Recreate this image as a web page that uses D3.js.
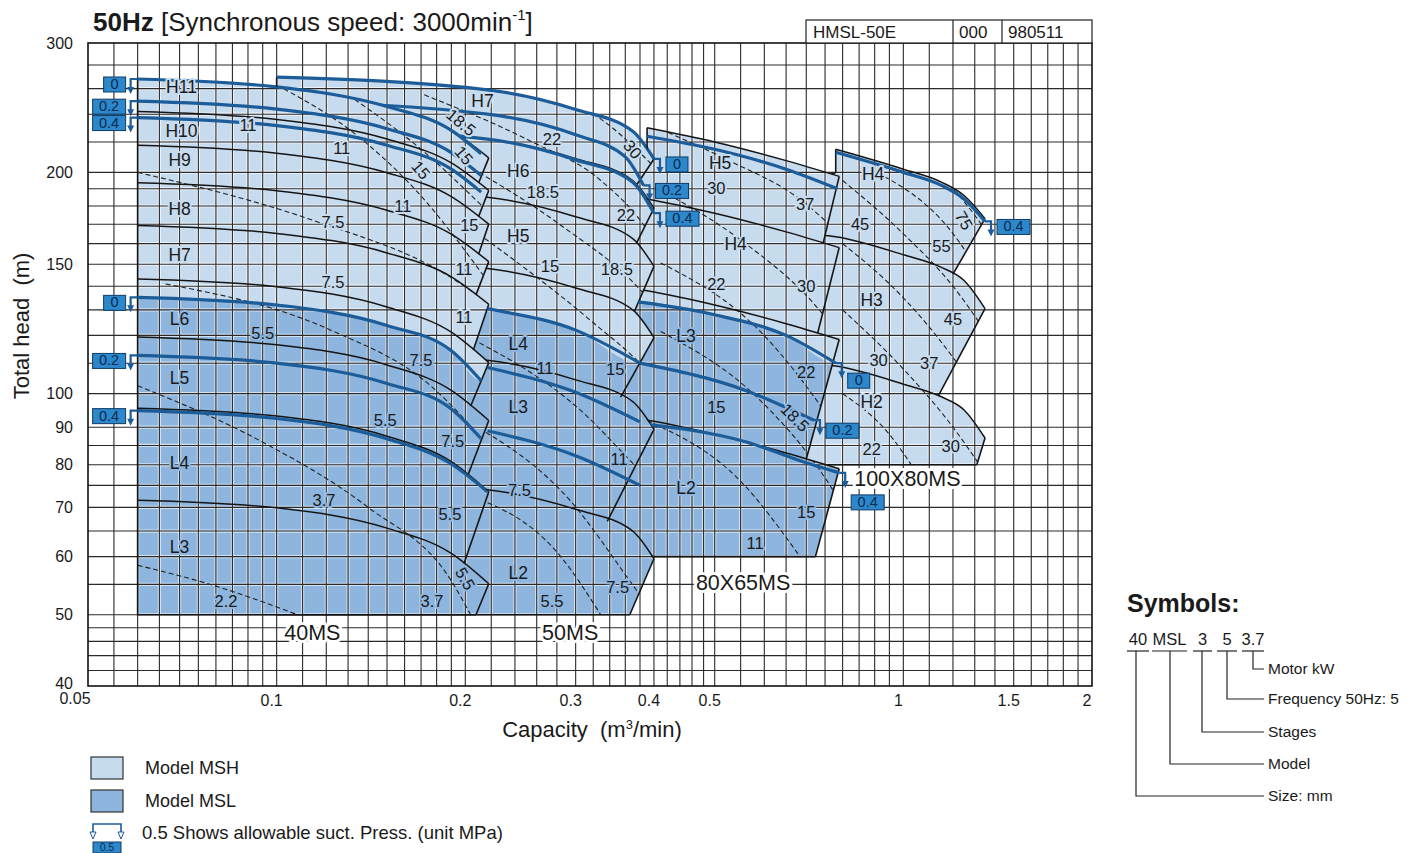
<!DOCTYPE html>
<html>
<head>
<meta charset="utf-8">
<title>50Hz performance chart</title>
<script src="https://cdn.jsdelivr.net/npm/d3@7/dist/d3.min.js"></script>
<style>
body { margin: 0; background: #fff; }
svg { display: block; }
text { font-family: "Liberation Sans", Arial, Helvetica, sans-serif; fill: #1a1a1a; white-space: pre; }
</style>
</head>
<body>
<svg id="chart" width="1420" height="853"></svg>
<script>
// ---- axis ticks
var xTickValues = [0.05, 0.1, 0.2, 0.3, 0.4, 0.5, 1, 1.5, 2];
var xTickLabels = ['0.05', '0.1', '0.2', '0.3', '0.4', '0.5', '1', '1.5', '2'];
var yTickValues = [40, 50, 60, 70, 80, 90, 100, 150, 200, 300];
var yTickLabels = ['40', '50', '60', '70', '80', '90', '100', '150', '200', '300'];

// ---- 40MS  (stage curves top -> bottom, [capacity m3/min, head m])
var ms40Stages = [
  ['H11', [[0.06, 268], [0.1, 261.4], [0.15, 245.8], [0.19, 228.1], [0.218, 209.3]]],
  ['H10', [[0.06, 242], [0.1, 236], [0.15, 222], [0.19, 206], [0.218, 189]]],
  ['H9', [[0.06, 217.8], [0.1, 212.4], [0.15, 199.8], [0.19, 185.4], [0.218, 170.1]]],
  ['H8', [[0.06, 193.6], [0.1, 188.8], [0.15, 177.6], [0.19, 164.8], [0.218, 151.2]]],
  ['H7', [[0.06, 169.4], [0.1, 165.2], [0.15, 155.4], [0.19, 144.2], [0.218, 132.3]]],
  ['L6', [[0.06, 143.2], [0.1, 139.8], [0.15, 131.2], [0.19, 121.2], [0.218, 110.2]]],
  ['L5', [[0.06, 119.4], [0.1, 116.5], [0.15, 109.4], [0.19, 101], [0.218, 91.9]]],
  ['L4', [[0.06, 95.5], [0.1, 93.2], [0.15, 87.5], [0.19, 80.8], [0.218, 73.5]]],
  ['L3', [[0.06, 71.6], [0.1, 69.9], [0.15, 65.6], [0.19, 60.6], [0.218, 55.1]]]
];
var ms40Inner = [0.21, 0.21, 0.21, 0.208, 0.206, 0.204, 0.202, 0.199];
var ms40Bottom = [0.208, 50];
var ms40Left = [[0.06, 50]];
var ms40BlueH = [
  ['0', [[0.06, 268], [0.1, 261.4], [0.15, 245.8], [0.19, 228.1], [0.212, 212]]],
  ['0.2', [[0.06, 250], [0.1, 243.8], [0.15, 229.3], [0.19, 212.8], [0.212, 198]]],
  ['0.4', [[0.06, 237.5], [0.1, 231.6], [0.15, 217.8], [0.19, 202], [0.212, 188]]]
];
var ms40BlueL = [
  ['0', [[0.06, 135.2], [0.1, 132], [0.15, 123.8], [0.19, 114.4], [0.212, 104.1]]],
  ['0.2', [[0.06, 112.7], [0.1, 110], [0.15, 103.2], [0.19, 95.3], [0.212, 86.8]]],
  ['0.4', [[0.06, 94.8], [0.1, 92.5], [0.15, 86.8], [0.19, 80.2], [0.217, 73.5]]]
];
var ms40Dash = [
  [[0.06, 58.4], [0.08, 54.7], [0.108, 50]],
  [[0.06, 102.5], [0.094, 86.3], [0.14, 70], [0.19, 55.6], [0.204, 50]],
  [[0.0665, 141], [0.122, 122], [0.176, 102.5], [0.22, 84]],
  [[0.06, 200], [0.1145, 172], [0.187, 145], [0.22, 132]],
  [[0.1, 263], [0.133, 226], [0.165, 191], [0.22, 140]],
  [[0.13, 255], [0.17, 215], [0.22, 175]],
  [[0.16, 258], [0.19, 240], [0.22, 218]]
];
var ms40StageLabels = [['H11', 0.0705, 262], ['H10', 0.0705, 228], ['H9', 0.07, 208], ['H8', 0.07, 178.6],
  ['H7', 0.07, 154.7], ['L6', 0.07, 126.6], ['L5', 0.07, 105], ['L4', 0.07, 80.5], ['L3', 0.07, 61.8]];
var ms40Kw = [['11', 0.09, 232], ['11', 0.127, 216], ['11', 0.159, 180], ['18.5', 0.197, 234], ['15', 0.199, 211],
  ['15', 0.17, 201.6], ['15', 0.203, 169.5], ['7.5', 0.123, 171], ['7.5', 0.123, 141.7], ['11', 0.199, 147.6],
  ['11', 0.199, 127], ['5.5', 0.095, 121], ['7.5', 0.17, 111], ['5.5', 0.149, 92], ['7.5', 0.191, 86.3],
  ['3.7', 0.119, 71.7], ['5.5', 0.189, 68.6], ['2.2', 0.083, 52.2], ['3.7', 0.177, 52.2], ['5.5', 0.2, 56]];
var ms40Tag = ['40MS', 0.114, 47.4];

// ---- 50MS
var ms50Stages = [
  ['H7', [[0.1, 269.5], [0.217, 259], [0.3, 243.6], [0.37, 227.5], [0.4, 208.6]]],
  ['H6', [[0.1, 231], [0.217, 222], [0.3, 208.8], [0.37, 195], [0.4, 178.8]]],
  ['H5', [[0.1, 192.5], [0.217, 185], [0.3, 174], [0.37, 162.5], [0.4, 149]]],
  ['L4', [[0.1, 154], [0.217, 148], [0.3, 139.2], [0.37, 130], [0.4, 119.2]]],
  ['L3', [[0.1, 115.5], [0.217, 111], [0.3, 104.4], [0.37, 97.5], [0.4, 89.4]]],
  ['L2', [[0.1, 77], [0.217, 74], [0.3, 69.6], [0.37, 65], [0.4, 59.6]]]
];
var ms50Inner = [0.375, 0.375, 0.372, 0.354, 0.337];
var ms50Bottom = [0.366, 50];
var ms50Left = [[0.1, 50]];
var ms50BlueH = [
  ['0', [[0.1, 269.5], [0.217, 259], [0.3, 243.6], [0.37, 227.5], [0.4, 208.6]]],
  ['0.2', [[0.1, 250], [0.217, 240], [0.3, 225], [0.36, 210], [0.385, 192]]],
  ['0.4', [[0.1, 231], [0.217, 222], [0.3, 208], [0.37, 194], [0.4, 176]]]
];
var ms50BlueL = [
  ['0', [[0.1, 140], [0.217, 130.5], [0.3, 122], [0.38, 110]]],
  ['0.2', [[0.217, 108.5], [0.3, 100.4], [0.38, 91.5]]],
  ['0.4', [[0.217, 89], [0.3, 82.3], [0.38, 75]]]
];
var ms50Dash = [
  [[0.2, 275], [0.26, 262], [0.33, 236], [0.42, 195]],
  [[0.172, 255], [0.253, 221], [0.329, 195], [0.39, 167], [0.42, 150]],
  [[0.2, 205], [0.284, 169.5], [0.38, 138.5], [0.42, 125]],
  [[0.2, 170], [0.316, 126], [0.39, 107.5], [0.42, 100]],
  [[0.2, 120], [0.305, 95], [0.38, 78.5], [0.42, 72]],
  [[0.2, 92], [0.294, 71.5], [0.366, 55.6], [0.4, 50]],
  [[0.2, 73], [0.284, 60], [0.329, 50]]
];
var ms50StageLabels = [['H7', 0.213, 250], ['H6', 0.243, 201], ['H5', 0.243, 164], ['L4', 0.243, 117],
  ['L3', 0.243, 96], ['L2', 0.243, 57]];
var ms50Kw = [['22', 0.275, 222], ['18.5', 0.266, 188], ['30', 0.37, 215], ['22', 0.361, 175], ['15', 0.273, 149],
  ['18.5', 0.349, 147.6], ['11', 0.268, 108.5], ['15', 0.347, 108], ['7.5', 0.244, 74], ['11', 0.352, 81.5],
  ['5.5', 0.275, 52.2], ['7.5', 0.35, 54.6]];
var ms50Tag = ['50MS', 0.294, 47.4];

// ---- 80X65MS
var ms80Stages = [
  ['H5', [[0.39, 230], [0.5, 220], [0.65, 207.5], [0.79, 197.5]]],
  ['H4', [[0.35, 187], [0.39, 184], [0.5, 176], [0.65, 166], [0.79, 158]]],
  ['L3', [[0.35, 140], [0.39, 138], [0.5, 132], [0.65, 124.5], [0.79, 118.5]]],
  ['L2', [[0.35, 93], [0.39, 92], [0.5, 88], [0.65, 83], [0.79, 79]]]
];
var ms80Inner = [0.745, 0.73, 0.70];
var ms80Bottom = [0.724, 60];
var ms80Left = [[0.33, 60], [0.33, 180], [0.39, 205]];
var ms80BlueH = [
  ['0.4', [[0.39, 224], [0.5, 215], [0.65, 202], [0.785, 190]]]
];
var ms80BlueL = [
  ['0', [[0.36, 134], [0.5, 128], [0.65, 120], [0.78, 110]]],
  ['0.2', [[0.38, 110], [0.56, 101], [0.72, 92]]],
  ['0.4', [[0.38, 91], [0.56, 86], [0.7, 80.5], [0.79, 78]]]
];
var ms80Dash = [
  [[0.41, 229], [0.524, 208], [0.677, 185], [0.82, 160]],
  [[0.41, 189], [0.549, 162], [0.737, 129.5], [0.82, 115]],
  [[0.41, 150.6], [0.591, 121.5], [0.765, 92], [0.82, 84]],
  [[0.41, 121.5], [0.591, 97.9], [0.737, 78.5], [0.82, 68]],
  [[0.39, 91.9], [0.549, 76.1], [0.684, 60]]
];
var ms80StageLabels = [['H5', 0.51, 206], ['H4', 0.54, 160], ['L3', 0.45, 120], ['L2', 0.45, 74.5]];
var ms80Kw = [['30', 0.503, 190.5], ['37', 0.697, 181], ['22', 0.503, 141], ['30', 0.7, 140], ['15', 0.503, 96],
  ['18.5', 0.672, 92.8], ['22', 0.7, 107], ['15', 0.7, 69], ['11', 0.58, 62.6]];
var ms80Tag = ['80X65MS', 0.555, 55.4];

// ---- 100X80MS
var ms100Stages = [
  ['H4', [[0.78, 215], [1.0, 202], [1.15, 194], [1.25, 186], [1.35, 173]]],
  ['H3', [[0.7, 165], [0.78, 163.5], [1.0, 154.5], [1.15, 148.5], [1.25, 142.5], [1.35, 130.5]]],
  ['H2', [[0.7, 110], [0.78, 109], [1.0, 103], [1.15, 99], [1.25, 95], [1.35, 87]]]
];
var ms100Inner = [1.2, 1.137];
var ms100Bottom = [1.31, 80];
var ms100Left = [[0.68, 80], [0.68, 190], [0.78, 200]];
var ms100BlueH = [
  ['0.4', [[0.78, 213], [1.0, 200], [1.15, 192], [1.25, 184], [1.35, 171.5]]]
];
var ms100Dash = [
  [[1.0, 214], [1.2, 190], [1.4, 160]],
  [[0.886, 202], [1.19, 166.6], [1.4, 135]],
  [[0.8, 195], [1.0, 165], [1.2, 140], [1.4, 116]],
  [[0.8, 160], [1.0, 135], [1.2, 112], [1.4, 92]],
  [[0.8, 130], [1.0, 108], [1.2, 90], [1.35, 78]],
  [[0.8, 100], [0.95, 88], [1.05, 78]]
];
var ms100StageLabels = [['H4', 0.895, 199], ['H3', 0.89, 134], ['H2', 0.89, 97.5]];
var ms100Kw = [['45', 0.853, 170], ['55', 1.15, 159], ['75', 1.25, 172], ['30', 0.913, 111], ['37', 1.1, 110],
  ['45', 1.2, 126.5], ['22', 0.89, 84], ['30', 1.19, 84.8]];
var ms100Tag = ['100X80MS', 1.015, 76.8];

// ---- legend / symbols text
var legendNames = ['Model MSH', 'Model MSL'];
var symbolTokens = ['40', 'MSL', '3', '5', '3.7'];
var symbolMeanings = ['Size: mm', 'Model', 'Stages', 'Frequency 50Hz: 5', 'Motor kW'];

// ================= drawing =================
var W = 1420, H = 853;
var lightFill = '#c7dbef', darkFill = '#8db5de', lineBlue = '#1c5c98', boxBlue = '#2c87cb';

var families = [
  { stages: ms40Stages, inner: ms40Inner, bottom: ms40Bottom, left: ms40Left, dash: ms40Dash, blueH: ms40BlueH, blueL: ms40BlueL,
    markH: 'left', markL: 'left', drop: {}, stageLabels: ms40StageLabels, kw: ms40Kw, tag: ms40Tag, tilt: { 3: 40, 4: 50, 5: 50, 19: 60 } },
  { stages: ms50Stages, inner: ms50Inner, bottom: ms50Bottom, left: ms50Left, dash: ms50Dash, blueH: ms50BlueH, blueL: ms50BlueL,
    markH: 'right', markL: null, drop: {}, stageLabels: ms50StageLabels, kw: ms50Kw, tag: ms50Tag, tilt: { 2: 50 } },
  { stages: ms80Stages, inner: ms80Inner, bottom: ms80Bottom, left: ms80Left, dash: ms80Dash, blueH: ms80BlueH, blueL: ms80BlueL,
    markH: null, markL: 'right', drop: { '0': 12, '0.2': 5, '0.4': 24 }, stageLabels: ms80StageLabels, kw: ms80Kw, tag: ms80Tag, tilt: { 5: 45 } },
  { stages: ms100Stages, inner: ms100Inner, bottom: ms100Bottom, left: ms100Left, dash: ms100Dash, blueH: ms100BlueH, blueL: [],
    markH: 'right', markL: null, drop: {}, stageLabels: ms100StageLabels, kw: ms100Kw, tag: ms100Tag, tilt: { 2: 60 } }
];

var svg = d3.select('#chart');
var x = d3.scaleLog().domain([0.05, 2]).range([88, 1092]);
var y = d3.scaleLog().domain([40, 300]).range([686, 43]);

var smooth = d3.line().x(function(d) { return x(d[0]); }).y(function(d) { return y(d[1]); }).curve(d3.curveMonotoneX);
var straight = d3.line().x(function(d) { return x(d[0]); }).y(function(d) { return y(d[1]); });

function headAt(pts, q) {
  var i = 0;
  while (i < pts.length - 2 && q > pts[i + 1][0]) i++;
  var a = pts[i], b = pts[i + 1];
  var t = Math.log(q / a[0]) / Math.log(b[0] / a[0]);
  return Math.exp(Math.log(a[1]) + t * Math.log(b[1] / a[1]));
}

function innerPoint(f, i) {
  return [f.inner[i], headAt(f.stages[i + 1][1], f.inner[i])];
}

// right edge of a family: curve end -> slant down-left -> along next curve -> its end ...
function boundary(f) {
  var pts = [];
  f.stages.forEach(function(s, i) {
    var p = s[1];
    pts.push(p[p.length - 1]);
    if (i < f.stages.length - 1) {
      var nxt = f.stages[i + 1][1];
      pts.push(innerPoint(f, i));
      nxt.forEach(function(q, k) { if (k < nxt.length - 1 && q[0] > f.inner[i]) pts.push(q); });
    }
  });
  pts.push(f.bottom);
  return pts;
}

function outlineSegments(f) {
  var segs = [];
  f.stages.forEach(function(s, i) {
    var e = s[1][s[1].length - 1];
    segs.push(i < f.stages.length - 1 ? [e, innerPoint(f, i)] : [e, f.bottom]);
  });
  segs.push([f.bottom].concat(f.left, [f.stages[0][1][0]]));
  return segs;
}

function envelopePath(f) {
  var rest = boundary(f).slice(1).concat(f.left);
  return smooth(f.stages[0][1]) + rest.map(function(p) { return 'L' + x(p[0]) + ',' + y(p[1]); }).join('') + 'Z';
}

function darkPath(f) {
  var l0 = f.blueL[0][1];
  var env = boundary(f).concat(f.left, f.stages[0][1]);
  var qMin = d3.min(env, function(d) { return d[0]; });
  var qMax = d3.max(env, function(d) { return d[0]; });
  var hMin = d3.min(env, function(d) { return d[1]; });
  var pts = l0.slice();
  if (qMin < l0[0][0] - 1e-6) pts.unshift([qMin, l0[0][1]]);
  if (qMax > l0[l0.length - 1][0] + 1e-6) pts.push([qMax, l0[l0.length - 1][1]]);
  return smooth(pts) + 'L' + x(qMax) + ',' + y(hMin) + 'L' + x(qMin) + ',' + y(hMin) + 'Z';
}

var defs = svg.append('defs');
families.forEach(function(f, i) {
  f.env = envelopePath(f);
  defs.append('clipPath').attr('id', 'clip' + i).append('path').attr('d', f.env);
  var m = defs.append('mask').attr('id', 'mask' + i).attr('maskUnits', 'userSpaceOnUse')
    .attr('x', 0).attr('y', 0).attr('width', W).attr('height', H);
  m.append('rect').attr('width', W).attr('height', H).attr('fill', '#fff');
  for (var j = 0; j < i; j++) m.append('path').attr('d', families[j].env).attr('fill', '#000');
});

// fills
var fillLayer = svg.append('g');
families.forEach(function(f, i) {
  var g = fillLayer.append('g').attr('mask', 'url(#mask' + i + ')');
  g.append('path').attr('d', f.env).attr('fill', lightFill);
  if (f.blueL.length) {
    g.append('path').attr('d', darkPath(f)).attr('fill', darkFill).attr('clip-path', 'url(#clip' + i + ')');
  }
});

// grid
var gridQ = [].concat(d3.range(0.055, 0.0999, 0.005), d3.range(0.1, 0.1999, 0.01), d3.range(0.2, 0.4999, 0.02),
  d3.range(0.5, 0.9999, 0.05), d3.range(1, 1.9999, 0.1));
var gridH = [].concat(d3.range(42, 49.9, 2), d3.range(50, 89.9, 5), d3.range(90, 199.9, 10), d3.range(200, 299.9, 20));
var grid = svg.append('g');
['halo', 'line'].forEach(function(kind) {
  var gg = grid.append('g')
    .attr('stroke', kind == 'halo' ? '#fff' : '#2a2a2a')
    .attr('stroke-width', kind == 'halo' ? 3.2 : 1.1)
    .attr('stroke-opacity', kind == 'halo' ? 0.6 : 1);
  gg.selectAll('line.v').data(gridQ).enter().append('line')
    .attr('x1', function(d) { return x(d); }).attr('x2', function(d) { return x(d); })
    .attr('y1', y(300)).attr('y2', y(40));
  gg.selectAll('line.h').data(gridH).enter().append('line')
    .attr('y1', function(d) { return y(d); }).attr('y2', function(d) { return y(d); })
    .attr('x1', x(0.05)).attr('x2', x(2));
});
svg.append('rect').attr('x', x(0.05)).attr('y', y(300)).attr('width', x(2) - x(0.05)).attr('height', y(40) - y(300))
  .attr('fill', 'none').attr('stroke', '#111').attr('stroke-width', 1.6);

// family line work
families.forEach(function(f, i) {
  var g = svg.append('g').attr('mask', 'url(#mask' + i + ')');
  g.append('g').attr('clip-path', 'url(#clip' + i + ')').selectAll('path').data(f.dash).enter().append('path')
    .attr('d', smooth).attr('fill', 'none').attr('stroke', '#222').attr('stroke-width', 1.1).attr('stroke-dasharray', '5,3');
  g.selectAll('path.stage').data(f.stages).enter().append('path').attr('class', 'stage')
    .attr('d', function(d) { return smooth(d[1]); })
    .attr('fill', 'none').attr('stroke', '#151515').attr('stroke-width', 1.5);
  g.selectAll('path.edge').data(outlineSegments(f)).enter().append('path').attr('class', 'edge')
    .attr('d', straight).attr('fill', 'none').attr('stroke', '#151515').attr('stroke-width', 1.6);
  g.selectAll('path.blue').data(f.blueH.concat(f.blueL)).enter().append('path').attr('class', 'blue')
    .attr('d', function(d) { return smooth(d[1]); })
    .attr('fill', 'none').attr('stroke', lineBlue).attr('stroke-width', 3.2);
});

// suction pressure markers
function marker(g, p, label, side, drop) {
  var px = x(p[0]), py = y(p[1]);
  var ax = side == 'left' ? px - 7 : px + 6;
  g.append('path').attr('d', 'M' + px + ',' + py + 'H' + ax + 'V' + (py + 9))
    .attr('fill', 'none').attr('stroke', lineBlue).attr('stroke-width', 2.2);
  g.append('path').attr('d', 'M' + (ax - 3.5) + ',' + (py + 8) + 'L' + (ax + 3.5) + ',' + (py + 8) + 'L' + ax + ',' + (py + 15) + 'Z')
    .attr('fill', lineBlue);
  var w = label.length == 1 ? 22 : 33;
  var bx = side == 'left' ? ax - 5 - w : ax + 6;
  var by = py - 2 + (drop || 0);
  g.append('rect').attr('x', bx).attr('y', by).attr('width', w).attr('height', 15)
    .attr('fill', boxBlue).attr('stroke', '#0e3c68').attr('stroke-width', 1);
  g.append('text').attr('x', bx + w / 2).attr('y', by + 12).attr('text-anchor', 'middle')
    .style('font-size', '14.5px').style('fill', '#0b2b4f').text(label);
}
var markLayer = svg.append('g');
families.forEach(function(f) {
  [[f.blueH, f.markH], [f.blueL, f.markL]].forEach(function(pair) {
    if (!pair[1]) return;
    pair[0].forEach(function(b) {
      var pts = b[1];
      marker(markLayer, pair[1] == 'left' ? pts[0] : pts[pts.length - 1], b[0], pair[1], f.drop[b[0]]);
    });
  });
});

// labels
function bgFor(f, q, h) {
  if (f.blueL.length && h < headAt(f.blueL[0][1], q)) return darkFill;
  return lightFill;
}
var labelLayer = svg.append('g');
families.forEach(function(f) {
  f.stageLabels.forEach(function(d) {
    labelLayer.append('text').attr('x', x(d[1])).attr('y', y(d[2])).attr('dy', '0.36em').attr('text-anchor', 'middle')
      .style('font-size', '17.5px').attr('stroke', bgFor(f, d[1], d[2])).attr('stroke-width', 4)
      .attr('paint-order', 'stroke').attr('stroke-linejoin', 'round').text(d[0]);
  });
  f.kw.forEach(function(d, k) {
    var a = f.tilt[k] || 0;
    labelLayer.append('text').attr('transform', 'translate(' + x(d[1]) + ',' + y(d[2]) + ') rotate(' + a + ')')
      .attr('dy', '0.36em').attr('text-anchor', 'middle')
      .style('font-size', '16.5px').attr('stroke', bgFor(f, d[1], d[2])).attr('stroke-width', 4)
      .attr('paint-order', 'stroke').attr('stroke-linejoin', 'round').text(d[0]);
  });
  labelLayer.append('text').attr('x', x(f.tag[1])).attr('y', y(f.tag[2])).attr('dy', '0.36em').attr('text-anchor', 'middle')
    .style('font-size', '21.5px').attr('stroke', '#fff').attr('stroke-width', 6)
    .attr('paint-order', 'stroke').attr('stroke-linejoin', 'round').text(f.tag[0]);
});

// axes labels
var axisText = svg.append('g');
xTickValues.forEach(function(v, i) {
  axisText.append('text').attr('x', x(v) - (i == 0 ? 13 : 5)).attr('y', y(40) + (i == 0 ? 18 : 20))
    .attr('text-anchor', 'middle').style('font-size', '16px').text(xTickLabels[i]);
});
yTickValues.forEach(function(v, i) {
  axisText.append('text').attr('x', 73).attr('y', y(v) + (v == 40 ? -3 : 0)).attr('dy', '0.35em')
    .attr('text-anchor', 'end').style('font-size', '16px').text(yTickLabels[i]);
});
var xt = axisText.append('text').attr('x', 592).attr('y', 737).attr('text-anchor', 'middle').style('font-size', '22px');
xt.append('tspan').text('Capacity  (m');
xt.append('tspan').attr('dy', -8).style('font-size', '13px').text('3');
xt.append('tspan').attr('dy', 8).text('/min)');
axisText.append('text').attr('transform', 'translate(29,' + 326 + ') rotate(-90)').attr('text-anchor', 'middle')
  .style('font-size', '22px').text('Total head  (m)');

// title
var tt = svg.append('text').attr('x', 93).attr('y', 31).style('font-size', '26px');
tt.append('tspan').style('font-weight', 'bold').text('50Hz');
tt.append('tspan').text(' [Synchronous speed: 3000min');
tt.append('tspan').attr('dy', -11).style('font-size', '15px').text('-1');
tt.append('tspan').attr('dy', 11).text(']');

// drawing number box
var nb = svg.append('g');
nb.append('rect').attr('x', 806).attr('y', 20).attr('width', 286).attr('height', 23).attr('fill', '#fff').attr('stroke', '#222').attr('stroke-width', 1.2);
[953, 1002].forEach(function(v) { nb.append('line').attr('x1', v).attr('x2', v).attr('y1', 20).attr('y2', 43).attr('stroke', '#222').attr('stroke-width', 1.2); });
[['HMSL-50E', 813], ['000', 959], ['980511', 1008]].forEach(function(d) {
  nb.append('text').attr('x', d[1]).attr('y', 38).style('font-size', '17px').text(d[0]);
});

// legend
var lg = svg.append('g');
[lightFill, darkFill].forEach(function(c, i) {
  var ty = 757 + i * 33;
  lg.append('rect').attr('x', 91).attr('y', ty).attr('width', 32).attr('height', 22).attr('fill', c).attr('stroke', '#333').attr('stroke-width', 1.2);
  lg.append('text').attr('x', 145).attr('y', ty + 17).style('font-size', '18px').text(legendNames[i]);
});
lg.append('path').attr('d', 'M93,834V824H121V834').attr('fill', 'none').attr('stroke', lineBlue).attr('stroke-width', 1.6);
[93, 121].forEach(function(v) {
  lg.append('path').attr('d', 'M' + (v - 3) + ',832L' + (v + 3) + ',832L' + v + ',839Z').attr('fill', '#fff').attr('stroke', lineBlue).attr('stroke-width', 1);
});
lg.append('rect').attr('x', 93).attr('y', 842).attr('width', 28).attr('height', 11).attr('fill', boxBlue).attr('stroke', '#0e3c68');
lg.append('text').attr('x', 107).attr('y', 851).attr('text-anchor', 'middle').style('font-size', '10px').style('fill', '#0b2b4f').text('0.5');
lg.append('text').attr('x', 142).attr('y', 839).style('font-size', '18.5px').text('0.5 Shows allowable suct. Press. (unit MPa)');

// symbols block
var sb = svg.append('g');
sb.append('text').attr('x', 1127).attr('y', 612).style('font-size', '25px').style('font-weight', 'bold').text('Symbols:');
var tokX = [[1127, 1149], [1152, 1187], [1193, 1212], [1217, 1237], [1242, 1264]];
var rowY = [796, 764, 732, 699, 669];
var stemX = [1136, 1170, 1202, 1227, 1253];
symbolTokens.forEach(function(t, i) {
  sb.append('text').attr('x', (tokX[i][0] + tokX[i][1]) / 2).attr('y', 645).attr('text-anchor', 'middle').style('font-size', '16.5px').text(t);
  sb.append('line').attr('x1', tokX[i][0]).attr('x2', tokX[i][1]).attr('y1', 651).attr('y2', 651).attr('stroke', '#222').attr('stroke-width', 1.2);
  sb.append('path').attr('d', 'M' + stemX[i] + ',651V' + rowY[i] + 'H1264').attr('fill', 'none').attr('stroke', '#222').attr('stroke-width', 1.2);
  sb.append('text').attr('x', 1268).attr('y', rowY[i] + 5).style('font-size', '15.5px').text(symbolMeanings[i]);
});
</script>
</body>
</html>
